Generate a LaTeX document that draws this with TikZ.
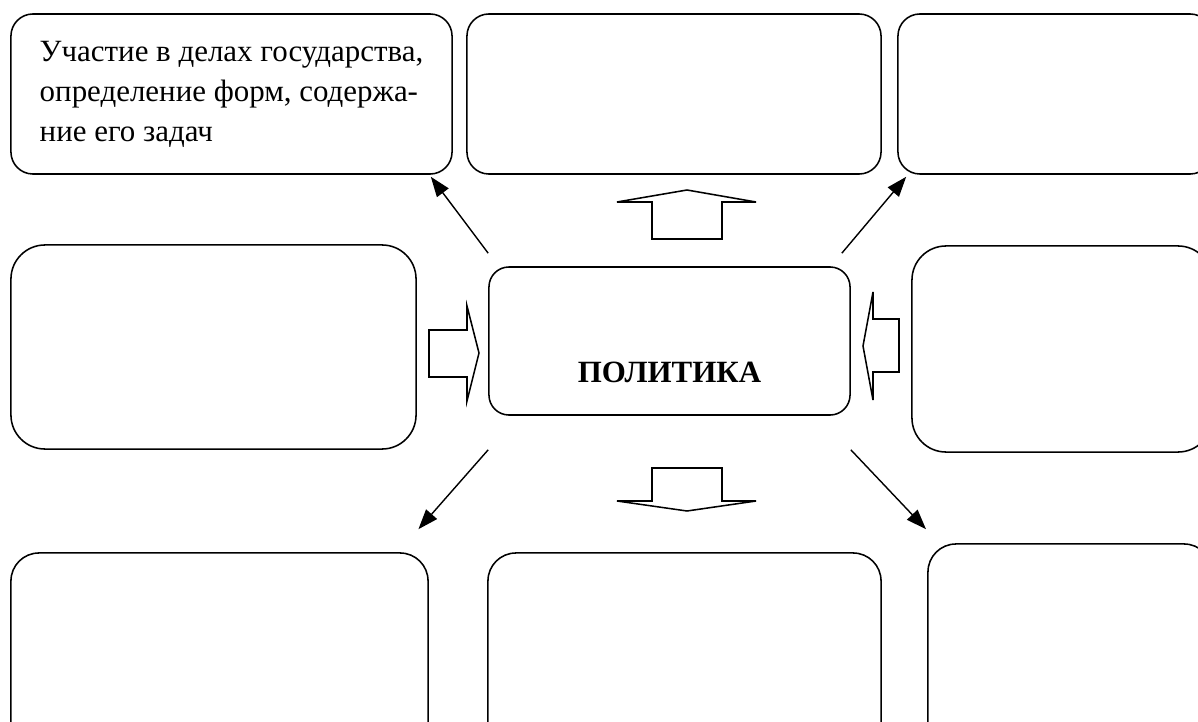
\documentclass[tikz,border=0pt]{standalone}
\usepackage{fontspec}
\setmainfont{Liberation Serif}
\usetikzlibrary{arrows.meta}

\begin{document}
\begin{tikzpicture}[x=0.025cm, y=-0.025cm,
  box/.style={draw, line width=1.1pt, inner sep=0pt, font=\fontsize{22}{28.45}\selectfont},
  link/.style={line width=1pt, -{Triangle[length=0.5cm, width=0.36cm]}},
  blockarrow/.style={draw, line width=1.1pt}]
\useasboundingbox (0,0) rectangle (1198,722);
\node[box, rounded corners=0.5cm, minimum width=9.025cm, minimum height=3.7cm, label={[yshift=-0.78cm, font=\fontsize{22}{26}\selectfont\bfseries]center:ПОЛИТИКА}] (P1N0) at (669.5,341) {};
\node[box, rounded corners=0.55cm, minimum width=11.025cm, minimum height=4cm, align=left] (P1N1) at (231.5,94) {Участие в делах государства,\\определение форм, содержа-\\ние его задач};
\node[box, rounded corners=0.55cm, minimum width=10.35cm, minimum height=4cm] (P1N2) at (674,94) {};
\node[box, rounded corners=0.55cm, minimum width=7.85cm, minimum height=4cm] (P1N3) at (1055,94) {};
\node[box, rounded corners=0.85cm, minimum width=10.125cm, minimum height=5.1cm] (P1N4) at (213.5,347) {};
\node[box, rounded corners=0.85cm, minimum width=7.5cm, minimum height=5.15cm] (P1N5) at (1062,349) {};
\node[box, rounded corners=0.7cm, minimum width=10.425cm, minimum height=5.175cm] (P1N6) at (219.5,656.5) {};
\node[box, rounded corners=0.7cm, minimum width=9.825cm, minimum height=5.175cm] (P1N7) at (684.5,656.5) {};
\node[box, rounded corners=0.7cm, minimum width=7.1cm, minimum height=5.4cm] (P1N8) at (1070,652) {};
\draw[link] ([yshift=0.325cm]P1N0.north west) -- ([xshift=-0.55cm, yshift=-0.05cm]P1N1.south east);
\draw[link] ([xshift=-0.225cm, yshift=0.325cm]P1N0.north east) -- ([xshift=0.225cm, yshift=-0.05cm]P1N3.south west);
\draw[link] ([yshift=-0.85cm]P1N0.south west) -- ([xshift=-0.26cm, yshift=0.575cm]P1N6.north east);
\draw[link] ([yshift=-0.85cm]P1N0.south east) -- ([xshift=-0.03cm, yshift=0.35cm]P1N8.north west);
\draw[blockarrow] (652,239) -- (652,202) -- (617,202) -- (687,190) -- (756,202) -- (722,202) -- (722,239) -- cycle;
\draw[blockarrow] (652,468) -- (652,501) -- (617,501) -- (687,511) -- (756,501) -- (722,501) -- (722,468) -- cycle;
\draw[blockarrow] (429,330) -- (467,330) -- (467,306) -- (479,353) -- (467,401) -- (467,377) -- (429,377) -- cycle;
\draw[blockarrow] (899,319) -- (873,319) -- (873,292) -- (863,346) -- (873,400) -- (873,372) -- (899,372) -- cycle;
\end{tikzpicture}
\end{document}
